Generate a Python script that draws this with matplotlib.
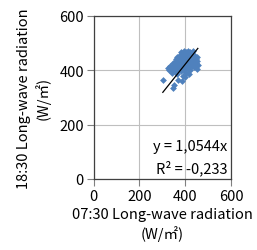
import matplotlib
matplotlib.use("Agg")
import matplotlib.pyplot as plt

plt.rcParams['font.family'] = ['Noto Sans CJK KR', 'DejaVu Sans']

x_vals = [302, 345, 350, 330, 335, 340, 345, 350, 355, 355, 360, 360, 365, 365, 370, 370,
          375, 375, 380, 380, 380, 385, 385, 390, 390, 390, 395, 395, 395, 400, 400, 405,
          405, 405, 410, 410, 410, 415, 415, 420, 420, 420, 425, 425, 430, 430, 435, 435,
          440, 440, 445, 445, 450, 452, 455, 450, 400, 415, 370, 385,
          325, 340, 352, 362, 372, 388, 398, 408, 418, 428, 438, 448, 392, 412, 432, 378]
y_vals = [362, 335, 345, 400, 415, 390, 425, 405, 430, 395, 440, 415, 385, 450, 430, 400,
          455, 420, 465, 440, 395, 425, 410, 460, 445, 380, 470, 430, 400, 455, 415, 465,
          440, 390, 470, 425, 405, 455, 440, 465, 420, 400, 450, 435, 460, 415, 445, 425,
          455, 410, 440, 425, 450, 435, 420, 405, 375, 385, 365, 360,
          408, 405, 418, 428, 412, 435, 445, 450, 430, 442, 432, 418, 418, 412, 470, 448]
slope = 1.0544
eq_text = "y = 1,0544x"
r2_text = "R² = -0,233"
ticks = [0, 200, 400, 600]
xlabel = "07:30 Long-wave radiation\n(W/㎡)"
ylabel = "18:30 Long-wave radiation\n(W/㎡)"

fig = plt.figure(figsize=(2.57, 2.51), dpi=100)
ax = fig.add_axes([0.3646, 0.2829, 0.5343, 0.6506])

ax.scatter(x_vals, y_vals, marker='D', s=12, color='#4F81BD', linewidths=0, zorder=3)
xs = [min(x_vals), max(x_vals)]
ax.plot(xs, [slope * v for v in xs], color='black', lw=0.9, zorder=4)

ax.set_xlim(0, 600)
ax.set_ylim(0, 600)
ax.set_xticks(ticks)
ax.set_yticks(ticks)
ax.grid(True, color='#BFBFBF', lw=0.8, zorder=0)
ax.set_axisbelow(True)
for s in ax.spines.values():
    s.set_color('#404040')
    s.set_linewidth(0.9)
ax.tick_params(axis='both', length=5, width=0.8, color='#808080', labelsize=10.5, pad=2)

ax.text(0.975, 0.20, eq_text, transform=ax.transAxes, ha='right', va='center', fontsize=10.5)
ax.text(0.975, 0.07, r2_text, transform=ax.transAxes, ha='right', va='center', fontsize=10.5)

ax.set_xlabel(xlabel, fontsize=10.5, labelpad=3, linespacing=1.35)
ax.set_ylabel(ylabel, fontsize=10.5, labelpad=6, linespacing=1.3)

fig.savefig("out.png", dpi=100)
